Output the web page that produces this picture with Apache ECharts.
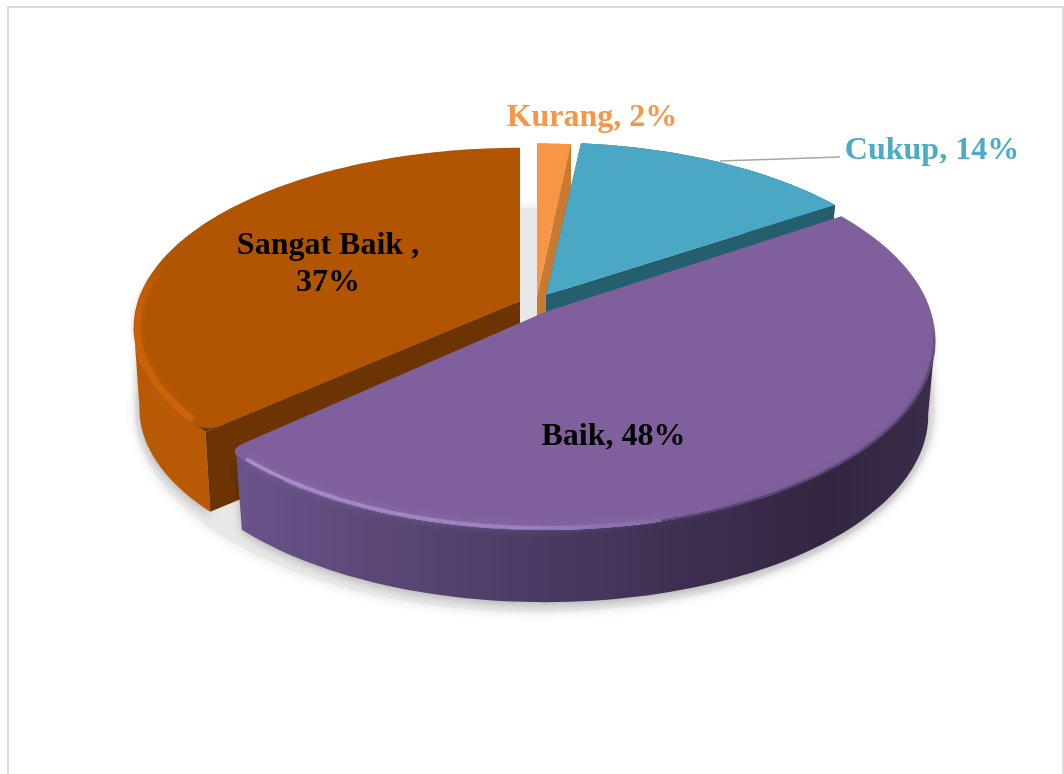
<!DOCTYPE html>
<html>
<head>
<meta charset="utf-8">
<style>html,body{margin:0;padding:0;background:#fff}#c{width:1064px;height:774px}</style>
<script src="https://cdn.jsdelivr.net/npm/echarts@6/dist/echarts.min.js"></script>
</head>
<body>
<div id="c"></div>
<script>
// Data (labels round to 2, 14, 48, 37 %)
const categories = ['Kurang', 'Cukup', 'Baik', 'Sangat Baik '];
const shareValues = [1.7, 13.9, 47.7, 36.7];

// Perspective disc
const A = 386, B = 186, P = 0.147;
const sliceGeom = [
  {cx:537, cy:296, sx:.95,  sy:.94, d:76, k:.98,  z:20},
  {cx:546, cy:295, sx:.975, sy:.94, d:60, k:.98,  z:30},
  {cx:545, cy:312, sx:1,    sy:1,   d:76, k:.982, z:40},
  {cx:520, cy:301, sx:.99,  sy:.945, d:82, k:.985, z:10}
];
const G = (stops, x0, y0, x1, y1) => new echarts.graphic.LinearGradient(x0, y0, x1, y1,
  stops.map(s => ({offset: s[0], color: s[1]})));
const sliceStyle = [
  {top:'#f79646', cut:'#c67a32', wall:'#c67a32'},
  {top:'#4ba8c4', cut:'#255f6d', wall:'#255f6d'},
  {top:'#7f609c', cut:null,
   wall:G([[0,'#6a5389'],[.3,'#53426e'],[.6,'#403155'],[.85,'#322640'],[1,'#3a2d4a']],0,0,1,0)},
  {top:'#b25503', cut:'#6c3403', wall:'#b85906'}
];
const labelStyle = [
  {x:592, y:118, fill:'#f79646'},
  {x:932, y:151, fill:'#4bacc6'},
  {x:613.5, y:437, fill:'#000'},
  {x:328, y:264, fill:'#000', wrap:true}
];
const total = shareValues.reduce((a, b) => a + b, 0);

function rimPoint(deg, g, scale) {
  const t = deg * Math.PI / 180, u = Math.sin(t), v = -Math.cos(t), den = 1 - P * v;
  const s = scale == null ? 1 : scale;
  return [g.cx + s * g.sx * A * u / den, g.cy + s * g.sy * B * v / den];
}
function lower(p, g) {
  return [g.cx + g.k * (p[0] - g.cx), g.cy + g.d + g.k * (p[1] - g.cy)];
}
function arc(a0, a1, g, scale) {
  const pts = [], n = Math.max(4, Math.ceil((a1 - a0) / 1.5));
  for (let i = 0; i <= n; i++) pts.push(rimPoint(a0 + (a1 - a0) * i / n, g, scale));
  return pts;
}
// rounded corner between a rim point and the radial edge
function corner(from, ctrl, apex) {
  const to = [ctrl[0] + (apex[0] - ctrl[0]) * .05, ctrl[1] + (apex[1] - ctrl[1]) * .05], out = [];
  for (let i = 0; i <= 6; i++) {
    const t = i / 6, q = 1 - t;
    out.push([q*q*from[0] + 2*q*t*ctrl[0] + t*t*to[0], q*q*from[1] + 2*q*t*ctrl[1] + t*t*to[1]]);
  }
  return out;
}
// visible outer wall between two angles: upper rim forward, lower rim back
function wallOutline(a0, a1, g) {
  const top = arc(a0, a1, g);
  return top.concat(top.map(p => lower(p, g)).reverse());
}

function renderSlice(params, api) {
  const i = params.dataIndex, value = api.value(0);
  let before = 0;
  for (let j = 0; j < i; j++) before += shareValues[j];
  const a0 = before / total * 360, a1 = (before + value) / total * 360;
  const g = sliceGeom[i], st = sliceStyle[i], lb = labelStyle[i];
  const apex = [g.cx, g.cy], apexLow = [g.cx, g.cy + g.d];
  const rim = arc(a0, a1, g);
  const children = [];
  const first = rim[0], last = rim[rim.length - 1];

  // outer wall: only the part facing the viewer
  const wa0 = i === 2 ? 98 : a0;
  const wa1 = i === 2 ? a1 - 2 : (i === 3 ? 262 : a1);
  children.push({type:'polygon', z2:g.z, shape:{points:wallOutline(wa0, wa1, g)},
    style:{fill:st.wall, shadowBlur:i >= 2 ? 8 : 0, shadowColor:'rgba(0,0,0,.22)', shadowOffsetY:3}});

  // cut walls
  if (st.cut) {
    children.push({type:'polygon', z2:g.z + 1, shape:{points:[apex, last, lower(last, g), apexLow]}, style:{fill:st.cut}});
    children.push({type:'polygon', z2:g.z + 1, shape:{points:[apex, first, lower(first, g), apexLow]}, style:{fill:st.cut}});
  }

  // top face, rounded at the exposed front corners
  let face;
  if (i === 2) {
    const body = arc(a0, a1 - 3, g);
    face = [apex].concat(body, corner(body[body.length - 1], last, apex));
  } else if (i === 3) {
    const body = arc(a0 + 3, a1, g);
    children.push({type:'polygon', z2:g.z + 1, shape:{points:[apex].concat(arc(a0, a0 + 4, g))}, style:{fill:st.cut}});
    face = [apex].concat(corner(body[0], first, apex).reverse(), body);
  } else {
    face = [apex].concat(rim);
  }
  children.push({type:'polygon', z2:g.z + 2, shape:{points:face}, style:{fill:st.top}});

  // soft bevel along the rim
  if (i === 2) {
    children.push({type:'polyline', z2:g.z + 3, shape:{points:arc(150, a1 - 3.5, g, .99)},
      style:{fill:null, stroke:G([[0,'#a98dcf'],[.55,'rgba(160,134,200,.8)'],[1,'rgba(127,96,156,0)']],0,0,1,0),
        lineWidth:3.5, shadowBlur:7, shadowColor:'rgba(160,134,200,.6)'}});
    children.push({type:'polyline', z2:g.z + 3, shape:{points:arc(92, 165, g, .998)},
      style:{fill:null, stroke:G([[0,'rgba(62,46,84,0)'],[.25,'rgba(62,46,84,.5)'],[1,'rgba(62,46,84,.5)']],0,0,0,1),
        lineWidth:3, shadowBlur:6, shadowColor:'rgba(62,46,84,.5)'}});
  } else if (i === 3) {
    children.push({type:'polyline', z2:g.z + 3, shape:{points:arc(a0 + 4, a0 + 55, g, .99)},
      style:{fill:null, stroke:G([[0,'rgba(205,98,8,0)'],[.35,'rgba(205,98,8,.85)'],[1,'rgba(208,100,8,.9)']],0,0,0,1),
        lineWidth:6, shadowBlur:6, shadowColor:'rgba(205,98,8,.5)'}});
  }

  // label
  const pct = Math.round(value) + '%';
  children.push({type:'text', z2:100, style:{
    text:categories[i] + ',' + (lb.wrap ? '\n' : ' ') + pct,
    x:lb.x, y:lb.y, fill:lb.fill, textAlign:'center', textVerticalAlign:'middle',
    font:'bold 32px "Liberation Serif", serif', lineHeight:37}});
  return {type:'group', children};
}

const chart = echarts.init(document.getElementById('c'), null, {renderer:'canvas', width:1064, height:774});
chart.setOption({
  animation:false,
  backgroundColor:'#fff',
  graphic:[
    {type:'polyline', silent:true, shape:{points:[[8,774],[8,7],[1063,7],[1063,774]]}, style:{stroke:'#dcdcdc', lineWidth:2, fill:null}},
    {type:'ellipse', silent:true, z:0, shape:{cx:535, cy:410, rx:400, ry:202}, style:{fill:'#e8e8e8', shadowBlur:12, shadowColor:'rgba(0,0,0,.12)'}},
    {type:'polyline', silent:true, z:5, shape:{points:[[720,161],[840,157]]}, style:{stroke:'#a6a6a6', lineWidth:1.6, fill:null}}
  ],
  series:[{
    type:'custom', coordinateSystem:'none', silent:true, z:2,
    data:shareValues.map((v, i) => ({name:categories[i], value:[v]})),
    encode:{value:0},
    renderItem:renderSlice
  }]
});
</script>
</body>
</html>
